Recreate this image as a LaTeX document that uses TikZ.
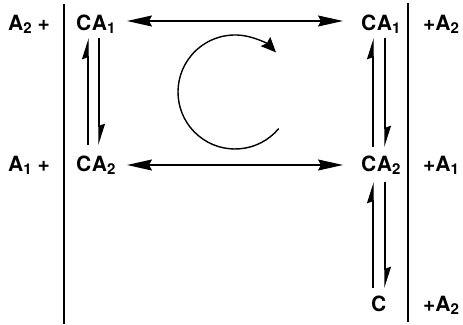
\documentclass[tikz,border=0pt]{standalone}
\usepackage{fontspec}
\setmainfont{TeX Gyre Heros}
\usetikzlibrary{arrows.meta}
\newcommand\sbs[1]{\raisebox{-3.5pt}{\fontsize{15pt}{15pt}\selectfont #1}}
\tikzset{
  lbl/.style={inner sep=0pt, anchor=west, text height=15pt, text depth=0pt, font=\bfseries\fontsize{21pt}{21pt}\selectfont},
  wall/.style={line width=1.3pt},
  dbl/.style={line width=1.4pt, {Stealth[length=25pt,width=11pt,inset=3pt]}-{Stealth[length=25pt,width=11pt,inset=3pt]}},
  harp/.style={line width=1.4pt, -{Stealth[harpoon,length=19pt,width=12pt,inset=2pt]}},
  circarrow/.style={line width=1.4pt, -{Stealth[length=15pt,width=13pt,inset=2pt]}}
}
\begin{document}
\begin{tikzpicture}[x=1pt,y=1pt]
\useasboundingbox (0,0) rectangle (463,324);
% walls
\coordinate (wlt) at (64,320);
\coordinate (wlb) at (64,0);
\coordinate (wrt) at (408,321);
\coordinate (wrb) at (408,2);
\draw[wall] (wlt) -- (wlb);
\draw[wall] (wrt) -- (wrb);
% labels
\node[lbl] (lA2) at (8,301) {A\sbs{2} +};
\node[lbl] (lA1) at (8,160) {A\sbs{1} +};
\node[lbl] (CA1L) at (76,301) {C\kern0.5pt A\sbs{1}};
\node[lbl] (CA2L) at (76,160) {C\kern0.5pt A\sbs{2}};
\node[lbl] (CA1R) at (361,301) {C\kern0.5pt A\sbs{1}};
\node[lbl] (CA2R) at (361,160) {C\kern0.5pt A\sbs{2}};
\node[lbl] (C) at (371,20) {C};
\node[lbl] (rA2) at (423,301) {+A\sbs{2}};
\node[lbl] (rA1) at (423,160) {+A\sbs{1}};
\node[lbl] (rA2b) at (423,20) {+A\sbs{2}};
% horizontal double arrows
\draw[dbl] ([xshift=51pt,yshift=2pt]CA1L.west) -- ([xshift=-18pt,yshift=2pt]CA1R.west);
\draw[dbl] ([xshift=51pt,yshift=-1pt]CA2L.west) -- ([xshift=-18pt,yshift=-1pt]CA2R.west);
% left vertical pair
\draw[harp] ([xshift=12pt,yshift=19pt]CA2L.west) -- ([xshift=12pt,yshift=-15pt]CA1L.west);
\draw[harp] ([xshift=23pt,yshift=-15pt]CA1L.west) -- ([xshift=23pt,yshift=19pt]CA2L.west);
% right top pair
\draw[harp] ([xshift=12pt,yshift=17pt]CA2R.west) -- ([xshift=12pt,yshift=-15pt]CA1R.west);
\draw[harp] ([xshift=24pt,yshift=-15pt]CA1R.west) -- ([xshift=24pt,yshift=17pt]CA2R.west);
% right bottom pair
\draw[harp] ([xshift=2pt,yshift=16pt]C.west) -- ([xshift=12pt,yshift=-18pt]CA2R.west);
\draw[harp] ([xshift=24pt,yshift=-18pt]CA2R.west) -- ([xshift=14pt,yshift=16pt]C.west);
% circular arrow
\coordinate (cc) at (235,232);
\draw[circarrow] (cc) ++(-40:57pt) arc[start angle=-40, end angle=-316, radius=57pt];
\end{tikzpicture}
\end{document}
